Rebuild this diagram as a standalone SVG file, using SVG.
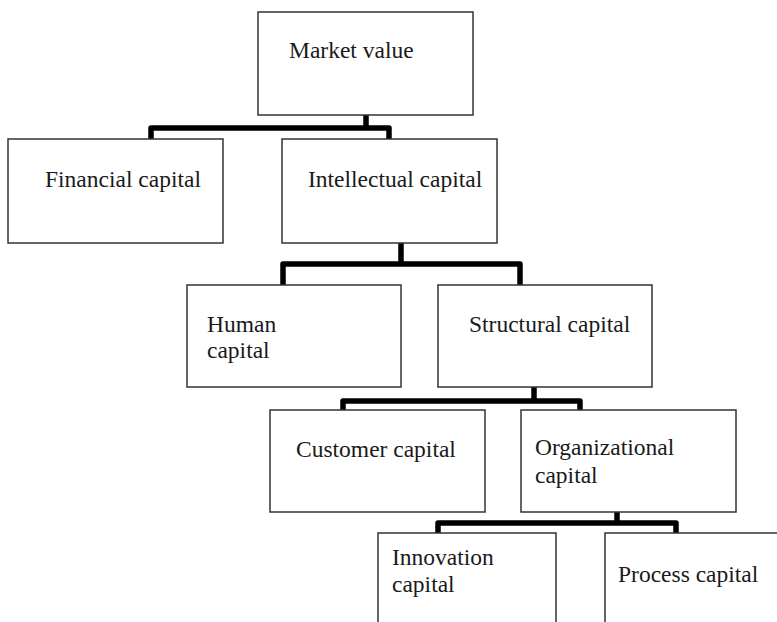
<svg xmlns="http://www.w3.org/2000/svg" width="777" height="622" viewBox="0 0 777 622">
  <style>
    .box { fill: #ffffff; stroke: #333333; stroke-width: 1.5; }
    .lbl { font-family: "Liberation Serif", "Times New Roman", serif; font-size: 23.5px; fill: #1a1a1a; }
    .bar { fill: none; stroke: #000000; stroke-width: 5.5; stroke-linejoin: round; }
  </style>
  <rect width="777" height="622" fill="#ffffff"/>

  <!-- connectors -->
  <g id="connectors">
    <path class="bar" d="M366,107 V128 M151,139 V128 H389 V139"/>
    <path class="bar" d="M401,233 V264 M283,286 V264 H520 V286"/>
    <path class="bar" d="M534,377 V401 M343,411 V401 H580 V411"/>
    <path class="bar" d="M617,505 V523 M438,534 V523 H676 V534"/>
  </g>

  <g id="market-value">
    <rect class="box" x="258" y="12" width="215" height="103"/>
    <text class="lbl" x="289" y="58">Market value</text>
  </g>
  <g id="financial-capital">
    <rect class="box" x="8" y="139" width="215" height="104"/>
    <text class="lbl" x="45" y="187">Financial capital</text>
  </g>
  <g id="intellectual-capital">
    <rect class="box" x="282" y="139" width="215" height="104"/>
    <text class="lbl" x="308" y="187">Intellectual capital</text>
  </g>
  <g id="human-capital">
    <rect class="box" x="187" y="285" width="214" height="102"/>
    <text class="lbl" x="207" y="332">Human</text>
    <text class="lbl" x="207" y="358">capital</text>
  </g>
  <g id="structural-capital">
    <rect class="box" x="438" y="285" width="214" height="102"/>
    <text class="lbl" x="469" y="332">Structural capital</text>
  </g>
  <g id="customer-capital">
    <rect class="box" x="270" y="410" width="215" height="102"/>
    <text class="lbl" x="296" y="457">Customer capital</text>
  </g>
  <g id="organizational-capital">
    <rect class="box" x="521" y="410" width="215" height="102"/>
    <text class="lbl" x="535" y="455">Organizational</text>
    <text class="lbl" x="535" y="483">capital</text>
  </g>
  <g id="innovation-capital">
    <rect class="box" x="378" y="533" width="178" height="120"/>
    <text class="lbl" x="392" y="565">Innovation</text>
    <text class="lbl" x="392" y="592">capital</text>
  </g>
  <g id="process-capital">
    <rect class="box" x="605" y="533" width="200" height="120"/>
    <text class="lbl" x="618" y="582">Process capital</text>
  </g>
</svg>
